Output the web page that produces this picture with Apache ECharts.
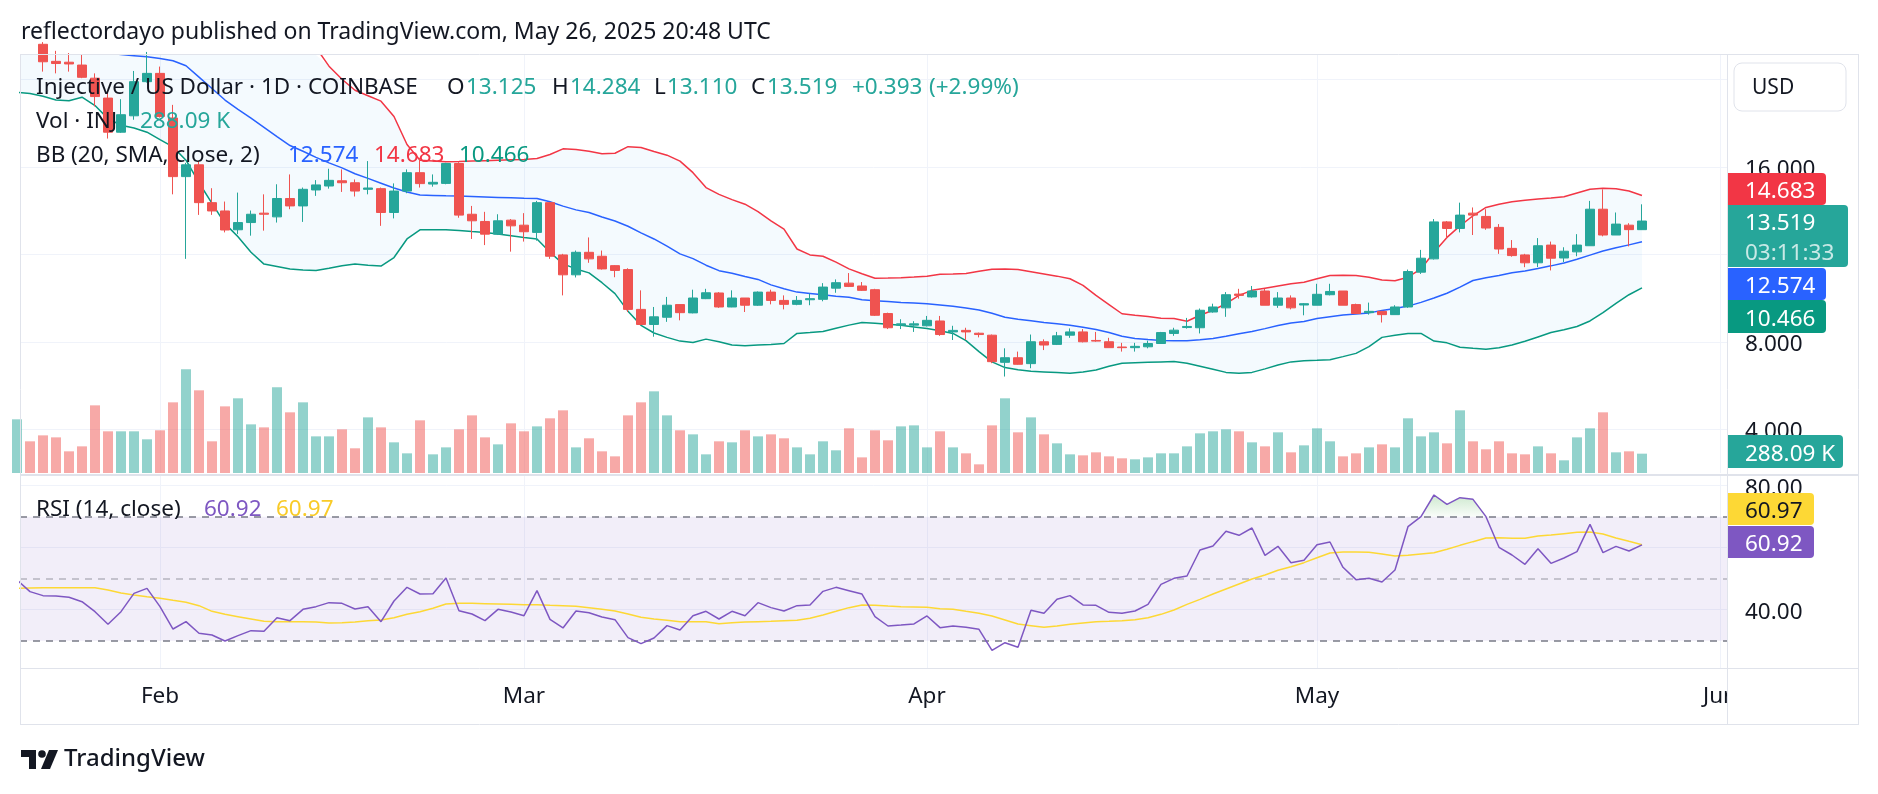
<!DOCTYPE html>
<html><head><meta charset="utf-8">
<script src="https://cdn.jsdelivr.net/npm/echarts@6/dist/echarts.min.js"></script>
<style>html,body{margin:0;padding:0;background:#fff}#c{width:1878px;height:794px}</style>
</head><body><div id="c"></div>
<script>
// Day index 0 = 2025-02-01 ; first bar = Jan 21
const firstDay = -11;
const open = [
21.5,22.4,21.6,20.82,20.78,20.65,20.05,19.14,17.58,18.33,
19.89,20.27,18.23,15.55,16.09,14.36,13.98,13.12,13.45,13.88,
13.71,14.55,14.21,14.94,15.12,15.36,15.27,14.97,15.00,13.91,
14.89,15.73,15.21,15.24,16.15,13.83,13.50,12.92,13.56,13.33,
13.00,14.36,11.97,11.06,12.09,11.91,11.48,11.30,9.48,8.79,
9.12,9.70,9.32,9.97,10.23,9.59,10.00,9.67,10.27,9.89,
9.71,9.92,9.94,10.45,10.68,10.55,10.38,9.29,8.76,8.76,
8.73,8.95,8.45,8.52,8.39,8.30,7.06,7.27,7.00,8.00,
7.88,8.30,8.45,8.06,8.00,7.76,7.73,7.77,7.92,8.38,
8.65,8.64,9.36,9.55,10.18,10.05,10.32,9.67,10.00,9.68,
9.67,10.15,10.32,9.70,9.33,9.39,9.24,9.59,11.18,11.79,
13.48,13.18,13.88,13.73,13.23,12.27,11.97,11.61,12.42,11.83,
12.11,12.39,14.06,12.88,13.33,13.125];
const high = [
22.8,22.6,21.7,21.3,21.2,21.15,20.27,19.41,19.09,20.38,
21.25,20.58,18.83,16.18,16.26,15.02,14.41,14.82,14.00,14.74,
15.20,15.65,15.05,15.39,15.91,15.88,15.42,16.26,15.05,15.24,
15.88,16.41,15.65,16.18,16.21,14.21,13.94,13.83,13.61,13.88,
14.44,14.39,12.02,12.17,12.77,12.17,11.50,11.36,10.35,9.59,
10.05,9.70,10.38,10.42,10.27,10.35,10.00,10.30,10.38,10.12,
10.09,10.20,10.68,10.85,11.14,10.73,10.42,9.33,9.03,8.94,
9.18,9.18,8.73,8.64,8.42,8.33,7.70,7.55,8.33,8.11,
8.45,8.61,8.58,8.45,8.18,7.95,7.95,8.05,8.45,8.64,
9.09,9.52,9.74,10.27,10.42,10.55,10.42,10.27,10.12,9.77,
10.65,10.65,10.32,9.74,9.79,9.39,9.67,11.30,12.20,13.61,
13.52,14.36,14.14,14.06,13.38,12.65,12.02,12.74,12.58,12.32,
12.92,14.44,14.97,13.91,13.42,14.284];
const low = [
21.3,21.3,20.35,20.27,20.35,20.05,18.76,17.29,17.55,18.15,
19.85,18.25,14.74,11.79,13.80,13.80,13.00,12.92,12.85,13.08,
13.45,14.06,13.48,14.67,15.00,14.85,14.64,14.74,13.30,13.64,
14.79,15.05,15.09,15.20,13.67,12.70,12.42,12.88,12.12,12.58,
12.62,11.79,10.12,10.94,11.61,11.30,10.95,9.36,8.76,8.23,
8.91,8.98,9.30,9.95,9.55,9.58,9.36,9.64,9.71,9.48,
9.67,9.67,9.85,10.24,10.50,10.32,9.18,8.58,8.58,8.45,
8.70,8.27,8.08,8.08,8.20,7.02,6.41,6.95,6.79,7.62,
7.85,8.18,7.97,8.00,7.73,7.55,7.55,7.70,7.92,8.27,
8.60,8.38,9.33,9.14,9.97,10.02,9.67,9.55,9.48,9.21,
9.67,10.12,9.67,9.29,9.24,8.88,9.24,9.55,11.10,11.76,
12.70,13.00,12.88,13.12,12.02,11.89,11.41,11.41,11.26,11.64,
11.91,12.39,12.82,12.88,12.36,13.110];
const close = [
22.4,21.6,20.80,20.72,20.70,20.09,19.21,17.58,18.38,19.89,
20.27,18.30,15.55,16.09,14.36,13.98,13.11,13.45,13.83,13.83,
14.55,14.21,14.97,15.17,15.38,15.27,14.89,15.03,13.91,14.89,
15.73,15.23,15.29,16.15,13.79,13.53,12.92,13.53,13.30,13.03,
14.36,11.91,11.06,12.09,11.79,11.33,11.26,9.48,8.79,9.14,
9.67,9.33,10.00,10.24,9.59,10.00,9.67,10.27,9.89,9.71,
9.89,9.97,10.50,10.70,10.53,10.35,9.21,8.64,8.82,8.82,
8.98,8.33,8.52,8.45,8.33,7.09,7.27,6.97,8.00,7.85,
8.27,8.45,8.00,8.03,7.73,7.73,7.79,7.92,8.42,8.53,
8.70,9.44,9.59,10.15,10.12,10.32,9.67,10.00,9.55,9.74,
10.17,10.30,9.67,9.29,9.39,9.24,9.59,11.21,11.82,13.48,
13.18,13.79,13.79,13.20,12.24,11.94,11.61,12.39,11.82,12.14,
12.42,14.06,12.88,13.38,13.126,13.519];
const volumeK = [
800,472,561,531,323,397,1008,621,621,621,
502,636,1053,1545,1232,472,993,1113,725,680,
1277,904,1053,546,546,651,368,829,680,457,
293,785,278,382,651,859,531,427,740,621,
695,815,934,382,517,323,248,859,1053,1217,
859,636,576,278,472,457,636,546,576,517,
382,278,472,338,666,233,636,487,695,710,
382,621,382,293,129,710,1113,606,829,576,
442,278,263,308,248,219,204,233,293,293,
397,591,621,651,621,457,397,606,308,412,
666,472,248,293,382,427,382,815,546,606,
442,934,472,353,472,293,278,397,293,189,
531,666,904,308,323,288.09];
const bbUpper = [
25.0,25.0,24.9,24.8,24.7,24.6,24.5,24.4,24.2,24.0,
23.8,23.6,23.4,23.2,23.0,22.8,22.6,22.4,22.3,22.2,
22.1,22.0,21.8,21.45,20.60,20.00,19.50,19.25,19.00,18.30,
17.02,16.30,16.26,16.23,16.24,16.26,16.28,16.30,16.32,16.33,
16.38,16.56,16.82,16.79,16.71,16.60,16.62,16.92,16.88,16.70,
16.53,16.26,15.73,15.05,14.74,14.50,14.29,13.95,13.53,13.15,
12.24,11.97,11.91,11.64,11.33,11.11,10.90,10.91,10.93,10.96,
11.00,11.09,11.10,11.12,11.22,11.32,11.33,11.30,11.20,11.10,
11.00,10.88,10.58,10.12,9.70,9.28,9.21,9.15,9.08,9.06,
8.94,9.21,9.44,9.74,10.12,10.35,10.45,10.55,10.65,10.72,
10.88,11.03,11.04,11.03,10.95,10.82,10.79,10.95,11.33,12.09,
12.77,13.30,13.76,14.14,14.29,14.40,14.47,14.53,14.57,14.63,
14.80,14.97,15.02,15.00,14.89,14.683];
const bbBasis = [
22.2,22.0,21.8,21.6,21.45,21.35,21.27,21.20,21.13,21.08,
21.03,20.95,20.85,20.62,20.10,19.58,19.05,18.62,18.22,17.80,
17.38,16.97,16.71,16.43,16.18,15.95,15.68,15.47,15.25,15.03,
14.85,14.71,14.69,14.67,14.66,14.64,14.62,14.60,14.58,14.56,
14.55,14.40,14.20,14.03,13.91,13.70,13.52,13.28,12.98,12.70,
12.37,12.02,11.80,11.50,11.25,11.13,10.98,10.85,10.60,10.42,
10.27,10.21,10.15,10.08,10.03,9.92,9.87,9.84,9.80,9.77,
9.74,9.68,9.62,9.54,9.45,9.30,9.12,9.03,8.96,8.88,
8.82,8.76,8.66,8.56,8.42,8.25,8.15,8.10,8.06,8.05,
8.05,8.09,8.15,8.25,8.37,8.47,8.60,8.74,8.86,8.93,
9.06,9.14,9.22,9.27,9.32,9.43,9.52,9.63,9.80,10.00,
10.22,10.50,10.80,10.93,11.03,11.15,11.24,11.35,11.47,11.60,
11.77,11.96,12.15,12.30,12.43,12.574];
const bbLower = [
19.40,19.35,19.22,19.05,19.02,19.18,18.80,18.20,17.90,17.77,
17.58,17.24,16.91,16.30,15.27,14.33,13.40,12.80,12.09,11.55,
11.44,11.33,11.28,11.26,11.36,11.48,11.56,11.50,11.46,11.85,
12.70,13.12,13.12,13.12,13.09,13.04,13.00,12.93,12.85,12.77,
12.70,12.09,11.56,11.33,11.15,10.70,10.20,9.40,8.75,8.40,
8.20,8.03,7.97,8.12,8.00,7.85,7.82,7.85,7.88,7.92,
8.38,8.42,8.47,8.62,8.76,8.88,8.85,8.80,8.75,8.68,
8.61,8.50,8.38,8.05,7.55,7.08,6.82,6.72,6.65,6.62,
6.59,6.56,6.62,6.71,6.88,7.02,7.04,7.06,7.08,7.10,
7.02,6.88,6.74,6.60,6.56,6.60,6.76,6.94,7.08,7.13,
7.15,7.18,7.32,7.47,7.78,8.20,8.30,8.38,8.38,8.03,
7.95,7.75,7.70,7.66,7.73,7.85,8.02,8.22,8.42,8.55,
8.70,8.95,9.33,9.75,10.15,10.466];
const rsi = [
49.57,45.81,44.52,44.41,43.98,42.58,39.35,35.27,39.35,45.27,
46.88,40.97,33.76,36.13,32.37,31.83,29.89,31.61,33.23,33.01,
37.42,36.45,40.11,40.97,42.26,42.04,40.22,40.97,36.13,42.80,
47.20,45.05,45.16,50.22,39.68,38.60,36.45,40.11,39.25,38.06,
46.13,36.88,34.09,39.57,39.03,37.63,36.77,30.97,29.03,30.86,
34.84,33.44,38.06,39.46,36.99,39.46,38.06,42.26,40.65,39.57,
41.29,41.51,45.91,47.20,46.13,45.05,37.74,34.73,35.05,35.38,
37.96,34.19,34.73,34.30,33.66,26.88,29.35,27.85,39.78,38.82,
43.33,44.52,41.51,41.40,39.14,38.82,39.57,41.72,48.17,50.11,
50.86,59.25,60.54,65.27,63.98,66.34,57.53,60.43,55.16,55.91,
60.97,61.83,53.66,49.68,50.11,48.92,52.80,66.77,70.00,76.99,
73.98,76.13,75.59,70.00,60.11,57.63,54.62,59.68,54.95,56.67,
58.71,67.53,58.39,60.43,58.92,60.92];
const rsiMA = [
46.88,46.99,47.10,47.10,47.10,47.10,47.10,46.34,45.38,44.73,
44.19,43.66,43.01,42.37,41.29,39.46,38.49,37.74,36.99,36.24,
36.13,36.13,36.13,36.02,35.70,35.81,36.02,36.45,36.67,37.42,
38.49,39.35,40.43,41.83,42.04,42.04,41.94,41.83,41.72,41.61,
41.61,41.40,41.29,41.08,40.65,40.11,39.57,38.60,37.53,36.99,
36.56,36.13,36.13,36.13,35.48,35.81,36.02,36.13,36.24,36.45,
36.56,37.20,38.28,39.46,40.65,41.51,41.40,41.18,40.97,40.86,
40.75,40.32,40.11,39.46,38.82,37.96,36.67,35.38,34.84,34.30,
34.73,35.27,35.70,36.13,36.24,36.45,36.77,37.42,38.49,39.89,
41.72,43.33,45.05,46.67,48.28,49.89,51.18,52.69,53.87,55.16,
56.77,58.28,58.60,58.60,58.49,57.96,57.31,57.53,57.96,58.39,
59.46,60.75,61.94,63.12,63.23,63.01,63.01,63.76,64.09,64.52,
64.95,65.05,64.41,63.12,62.04,60.97];
const monthStarts = [0, 28, 59, 89, 120];
const monthNames = ['Feb', 'Mar', 'Apr', 'May', 'Jun'];
const priceTicks = [4, 8, 12, 16, 20];
const rsiTicks = [40, 60, 80];

const FONT = '"Noto Sans", sans-serif';
const FS = 22.5;
const TY = 2.5; // optical baseline nudge for middle-aligned text
const TXT = '#131722';
const UP = '#26A69A', DOWN = '#EF5350';
const days = open.map((_, i) => firstDay + i);
const last = days.length - 1;
const candleData = days.map((d, i) => [d, open[i], close[i], low[i], high[i]]);
const volData = days.map((d, i) => ({
  value: [d, volumeK[i]],
  itemStyle: { color: close[i] >= open[i] ? 'rgba(38,166,154,0.5)' : 'rgba(239,83,80,0.5)' }
}));
const pair = arr => days.map((d, i) => [d, arr[i]]);
const rsiOver = rsi.map(v => Math.max(v, 70));
const level70 = rsi.map(() => 70);

function bandSeries(xi, yi, upperArr, lowerArr, fill) {
  return {
    type: 'custom', xAxisIndex: xi, yAxisIndex: yi, silent: true, z: 1,
    data: days.map((d, i) => [d, upperArr[i], lowerArr[i]]),
    encode: { x: 0, y: [1, 2] },
    renderItem: function (params, api) {
      if (params.dataIndex !== 0) return null;
      const top = days.map((d, i) => api.coord([d, upperArr[i]]));
      const bot = days.map((d, i) => api.coord([d, lowerArr[i]])).reverse();
      const cs = params.coordSys;
      const pts = echarts.graphic.clipPointsByRect(top.concat(bot), { x: cs.x, y: cs.y, width: cs.width, height: cs.height });
      return { type: 'polygon', shape: { points: pts }, style: { fill: fill } };
    }
  };
}

const XMIN = -10.769, XMAX = 120.54;
const gridLine = { show: true, lineStyle: { color: '#F0F3FA', width: 1 } };

function txt(x, y, text, color, size, weight, z) {
  return { type: 'text', x: x, y: y + TY, z: z || 110,
    style: { text: text, fill: color, fontSize: size || FS, fontWeight: weight || 'normal', fontFamily: FONT, verticalAlign: 'middle', align: 'left' } };
}
function badge(y, h, w, color, lines, textColor) {
  const els = [{ type: 'rect', z: 100, shape: { x: 1728, y: y, width: w, height: h, r: [0, 4, 4, 0] }, style: { fill: color } }];
  lines.forEach(ln => {
    els.push({ type: 'text', z: 101, x: 1745, y: ln[1] + TY, style: { text: ln[0], fill: ln[2] || textColor || '#fff', fontSize: FS, fontFamily: FONT, verticalAlign: 'middle' } });
  });
  return els;
}
const chg = close[last] - close[last - 1];
const chgPct = chg / close[last - 1] * 100;
const sign = v => (v >= 0 ? '+' : '');

const graphics = [
  { type: 'rect', z: 90, shape: { x: 1727, y: 669, width: 151, height: 56 }, style: { fill: '#fff' } },
  { type: 'line', z: 95, shape: { x1: 20, y1: 54.5, x2: 1858, y2: 54.5 }, style: { stroke: '#E0E3EB', lineWidth: 1 } },
  { type: 'line', z: 95, shape: { x1: 20.5, y1: 54, x2: 20.5, y2: 725 }, style: { stroke: '#E0E3EB', lineWidth: 1 } },
  { type: 'line', z: 95, shape: { x1: 1858.5, y1: 54, x2: 1858.5, y2: 725 }, style: { stroke: '#E0E3EB', lineWidth: 1 } },
  { type: 'line', z: 95, shape: { x1: 1727.5, y1: 54, x2: 1727.5, y2: 725 }, style: { stroke: '#E0E3EB', lineWidth: 1 } },
  { type: 'line', z: 95, shape: { x1: 20, y1: 475, x2: 1858, y2: 475 }, style: { stroke: '#E0E3EB', lineWidth: 2 } },
  { type: 'line', z: 95, shape: { x1: 20, y1: 668.5, x2: 1858, y2: 668.5 }, style: { stroke: '#E0E3EB', lineWidth: 1 } },
  { type: 'line', z: 95, shape: { x1: 20, y1: 724.5, x2: 1858, y2: 724.5 }, style: { stroke: '#E0E3EB', lineWidth: 1 } },
  txt(21, 30, 'reflectordayo published on TradingView.com, May 26, 2025 20:48 UTC', TXT, 23),
  txt(36, 85, 'Injective / US Dollar · 1D · COINBASE', TXT),
  txt(447, 85, 'O', TXT), txt(466, 85, open[last].toFixed(3), UP),
  txt(552, 85, 'H', TXT), txt(570, 85, high[last].toFixed(3), UP),
  txt(654, 85, 'L', TXT), txt(667, 85, low[last].toFixed(3), UP),
  txt(751, 85, 'C', TXT), txt(767, 85, close[last].toFixed(3), UP),
  txt(852, 85, sign(chg) + chg.toFixed(3), UP),
  txt(929, 85, '(' + sign(chg) + chgPct.toFixed(2) + '%)', UP),
  txt(36, 119, 'Vol · INJ', TXT), txt(140, 119, volumeK[last].toFixed(2) + ' K', UP),
  txt(36, 153, 'BB (20, SMA, close, 2)', TXT),
  txt(288, 153, bbBasis[last].toFixed(3), '#2962FF'),
  txt(374, 153, bbUpper[last].toFixed(3), '#F23645'),
  txt(459, 153, bbLower[last].toFixed(3), '#089981'),
  txt(36, 507, 'RSI (14, close)', TXT),
  txt(204, 507, rsi[last].toFixed(2), '#7E57C2'),
  txt(276, 507, rsiMA[last].toFixed(2), '#F9CB28'),
  { type: 'rect', z: 100, shape: { x: 1734, y: 63, width: 112, height: 48, r: 8 }, style: { fill: '#fff', stroke: '#E0E3EB', lineWidth: 1 } },
  txt(1752, 86, 'USD', TXT, 21),
  { type: 'polygon', z: 100, shape: { points: [[21,750],[36,750],[36,769],[29,769],[29,757],[21,757]] }, style: { fill: TXT } },
  { type: 'circle', z: 100, shape: { cx: 42, cy: 754, r: 3.8 }, style: { fill: TXT } },
  { type: 'polygon', z: 100, shape: { points: [[49,750],[58,750],[50,769],[41,769]] }, style: { fill: TXT } },
  txt(64, 757, 'TradingView', TXT, 24, 500)
].concat(
  badge(173, 32, 98, '#F23645', [[bbUpper[last].toFixed(3), 189]]),
  badge(205, 62, 120, UP, [[close[last].toFixed(3), 221], ['03:11:33', 251, 'rgba(255,255,255,0.75)']]),
  badge(268, 32, 98, '#2962FF', [[bbBasis[last].toFixed(3), 284]]),
  badge(300, 33, 98, '#089981', [[bbLower[last].toFixed(3), 317]]),
  badge(435, 33, 115, UP, [[volumeK[last].toFixed(2) + ' K', 452]]),
  badge(493, 32, 86, '#FDD835', [[rsiMA[last].toFixed(2), 509]], TXT),
  badge(526, 32, 86, '#7E57C2', [[rsi[last].toFixed(2), 542]])
);

const option = {
  animation: false,
  backgroundColor: '#fff',
  textStyle: { fontFamily: FONT },
  grid: [
    { left: 20, top: 55, width: 1707, height: 418 },
    { left: 20, top: 55, width: 1707, height: 418 },
    { left: 20, top: 476, width: 1707, height: 192 }
  ],
  xAxis: [
    { type: 'value', gridIndex: 0, min: XMIN, max: XMAX, axisLine: { show: false },
      axisTick: { show: false, customValues: monthStarts }, axisLabel: { show: false }, splitLine: gridLine },
    { type: 'value', gridIndex: 1, min: XMIN, max: XMAX, show: false, splitLine: { show: false } },
    { type: 'value', gridIndex: 2, min: XMIN, max: XMAX, axisLine: { show: false },
      axisTick: { show: false, customValues: monthStarts },
      axisLabel: { customValues: monthStarts, formatter: v => monthNames[monthStarts.indexOf(v)] || '',
        color: TXT, fontSize: FS, fontFamily: FONT, margin: 17 },
      splitLine: gridLine }
  ],
  yAxis: [
    { type: 'value', gridIndex: 0, position: 'right', min: 2.0, max: 21.11, axisLine: { show: false },
      axisTick: { show: false, customValues: priceTicks },
      axisLabel: { show: false, customValues: priceTicks },
      splitLine: gridLine },
    { type: 'value', gridIndex: 1, min: 0, max: 6229, show: false, splitLine: { show: false } },
    { type: 'value', gridIndex: 2, position: 'right', min: 21.18, max: 83.12, axisLine: { show: false },
      axisTick: { show: false, customValues: rsiTicks },
      axisLabel: { show: false, customValues: rsiTicks },
      splitLine: gridLine }
  ],
  series: [
    { name: 'Volume', type: 'bar', xAxisIndex: 1, yAxisIndex: 1, data: volData, barWidth: 10, z: 1, silent: true },
    bandSeries(0, 0, bbUpper, bbLower, 'rgba(33,150,243,0.05)'),
    { name: 'BB Upper', type: 'line', xAxisIndex: 0, yAxisIndex: 0, data: pair(bbUpper), symbol: 'none',
      lineStyle: { color: '#F23645', width: 1.5 }, z: 3, silent: true },
    { name: 'BB Basis', type: 'line', xAxisIndex: 0, yAxisIndex: 0, data: pair(bbBasis), symbol: 'none',
      lineStyle: { color: '#2962FF', width: 1.5 }, z: 3, silent: true },
    { name: 'BB Lower', type: 'line', xAxisIndex: 0, yAxisIndex: 0, data: pair(bbLower), symbol: 'none',
      lineStyle: { color: '#089981', width: 1.5 }, z: 3, silent: true },
    { name: 'INJUSD', type: 'candlestick', xAxisIndex: 0, yAxisIndex: 0, data: candleData, barWidth: 9, z: 5,
      dimensions: ['day', 'open', 'close', 'lowest', 'highest'],
      encode: { x: 'day', y: ['open', 'close', 'lowest', 'highest'] },
      itemStyle: { color: UP, color0: DOWN, borderColor: UP, borderColor0: DOWN, borderWidth: 1 }, silent: true },
    bandSeries(2, 2, rsiOver, level70, new echarts.graphic.LinearGradient(0, 0, 0, 1, [
      { offset: 0, color: 'rgba(76,175,80,0.28)' }, { offset: 1, color: 'rgba(76,175,80,0.03)' }])),
    { name: 'RSI', type: 'line', xAxisIndex: 2, yAxisIndex: 2, data: pair(rsi), symbol: 'none',
      lineStyle: { color: '#7E57C2', width: 1.5 }, z: 4, silent: true,
      markArea: { silent: true, z: 0, itemStyle: { color: 'rgba(126,87,194,0.1)' }, data: [[{ yAxis: 70 }, { yAxis: 30 }]] },
      markLine: { silent: true, z: 2, symbol: 'none', label: { show: false },
        data: [
          { yAxis: 70, lineStyle: { color: '#787B86', type: [7, 6], width: 1.5 } },
          { yAxis: 50, lineStyle: { color: 'rgba(120,123,134,0.5)', type: [7, 6], width: 1.5 } },
          { yAxis: 30, lineStyle: { color: '#787B86', type: [7, 6], width: 1.5 } }
        ] } },
    { name: 'RSI MA', type: 'line', xAxisIndex: 2, yAxisIndex: 2, data: pair(rsiMA), symbol: 'none',
      lineStyle: { color: '#FDD835', width: 1.5 }, z: 3, silent: true }
  ],
  graphic: graphics
};
const chart = echarts.init(document.getElementById('c'));
chart.setOption(option);
// price-scale labels placed through the axes' own scales
const scaleLabels = [];
priceTicks.forEach(v => {
  scaleLabels.push(txt(1745, chart.convertToPixel({ yAxisIndex: 0 }, v), v.toFixed(3), TXT, FS, 'normal', 50));
});
rsiTicks.forEach(v => {
  scaleLabels.push(txt(1745, chart.convertToPixel({ yAxisIndex: 2 }, v), v.toFixed(2), TXT, FS, 'normal', 50));
});
chart.setOption({ graphic: graphics.concat(scaleLabels) });
</script></body></html>
